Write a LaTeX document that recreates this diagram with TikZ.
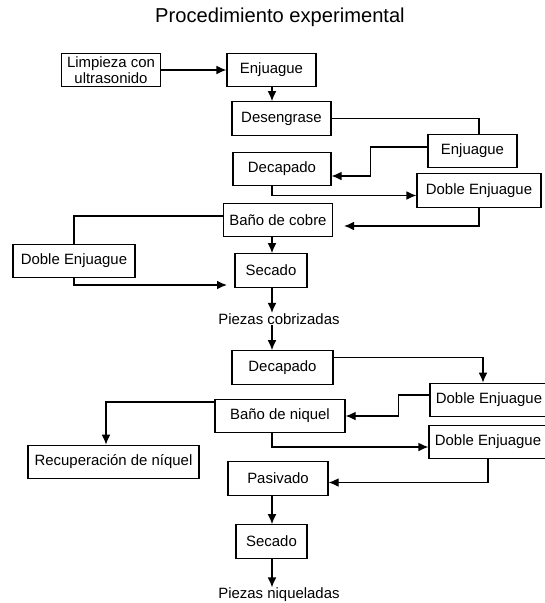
\documentclass[tikz,border=0pt]{standalone}
\usepackage{fontspec}
\setmainfont{Liberation Sans}
\usetikzlibrary{arrows.meta,calc}

\tikzset{
	box/.style={draw, minimum width=#1*0.75pt, minimum height=25pt, inner sep=0pt,
		font=\fontsize{11.2}{12.5}\selectfont, align=center},
	txt/.style={inner sep=0pt, font=\fontsize{11.2}{12}\selectfont},
	arr/.style={-{Latex[length=7.5pt,width=6.5pt]}},
}

\begin{document}
\begin{tikzpicture}[x=0.75pt, y=-0.75pt, line width=0.9pt]
	\useasboundingbox (0,0) rectangle (545,603);
	\coordinate (axis) at (272,0);

	\node[inner sep=0pt, font=\fontsize{15.1}{17}\selectfont] (title) at (280,17) {Procedimiento experimental};

	% cobre
	\node[box=99] (limp) at (111,70) {Limpieza con\\ultrasonido};
	\node[box=89] (enj1) at (271.5,70) {Enjuague};
	\node[box=99] (des) at (281.5,118.5) {Desengrase};
	\node[box=89] (enj2) at (472.5,151) {Enjuague};
	\node[box=98] (dec1) at (282,169) {Decapado};
	\node[box=124] (de1) at (479,190.5) {Doble Enjuague};
	\node[box=109] (bcu) at (278,220) {Baño de cobre};
	\node[box=122] (de2) at (74,261) {Doble Enjuague};
	\node[box=72] (sec1) at (271,270.5) {Secado};
	\node[txt] (pcu) at (279,319) {Piezas cobrizadas};
	\coordinate (cuin) at (344,226);
	\coordinate (secin) at (227,285);

	% niquel
	\node[box=101] (dec2) at (282.5,367.5) {Decapado};
	\node[box=118] (de3) at (489,400) {Doble Enjuague};
	\node[box=130] (bni) at (280,416) {Baño de niquel};
	\node[box=171] (rec) at (113.5,462) {Recuperación de níquel};
	\node[box=118] (de4) at (488,442) {Doble Enjuague};
	\node[box=100] (pas) at (278,478.5) {Pasivado};
	\node[box=71] (sec2) at (271.5,541.5) {Secado};
	\node[txt] (pni) at (279,595) {Piezas niqueladas};

	\draw[arr] (limp) -- (enj1);
	\draw[arr] (enj1.south -| axis) -- (des.north -| axis);
	\draw (des.east) -| (enj2.north -| de1);
	\draw[arr] ($(enj2.west)+(0,-4)$) -- ++(-57,0) |- ($(dec1.east)+(0,7)$);
	\draw[arr] (dec1.south -| axis) |- ($(de1.west)+(0,5)$);
	\draw[arr] (de1.south) |- (cuin);
	\draw ($(bcu.west)+(0,-4)$) -| (de2.north);
	\draw[arr] (de2.south) |- (secin);
	\draw[arr] (bcu.south -| axis) -- (sec1.north -| axis);
	\draw[arr] (sec1.south -| axis) -- (pcu.north -| axis);

	\draw[arr] (pcu.south -| axis) -- (dec2.north -| axis);
	\draw[arr] ($(dec2.east)+(0,-10)$) -| ($(de3.north)+(-6,0)$);
	\draw[arr] ($(de3.west)+(0,-5)$) -- ++(-31,0) |- (bni.east);
	\draw[arr] ($(bni.west)+(0,-14)$) -| ($(rec.north)+(-7.5,0)$);
	\draw[arr] (bni.south -| axis) |- ($(de4.west)+(0,5)$);
	\draw[arr] (de4.south) |- ($(pas.east)+(0,4)$);
	\draw[arr] (pas.south -| axis) -- (sec2.north -| axis);
	\draw[arr] (sec2.south -| axis) -- (pni.north -| axis);
\end{tikzpicture}
\end{document}
